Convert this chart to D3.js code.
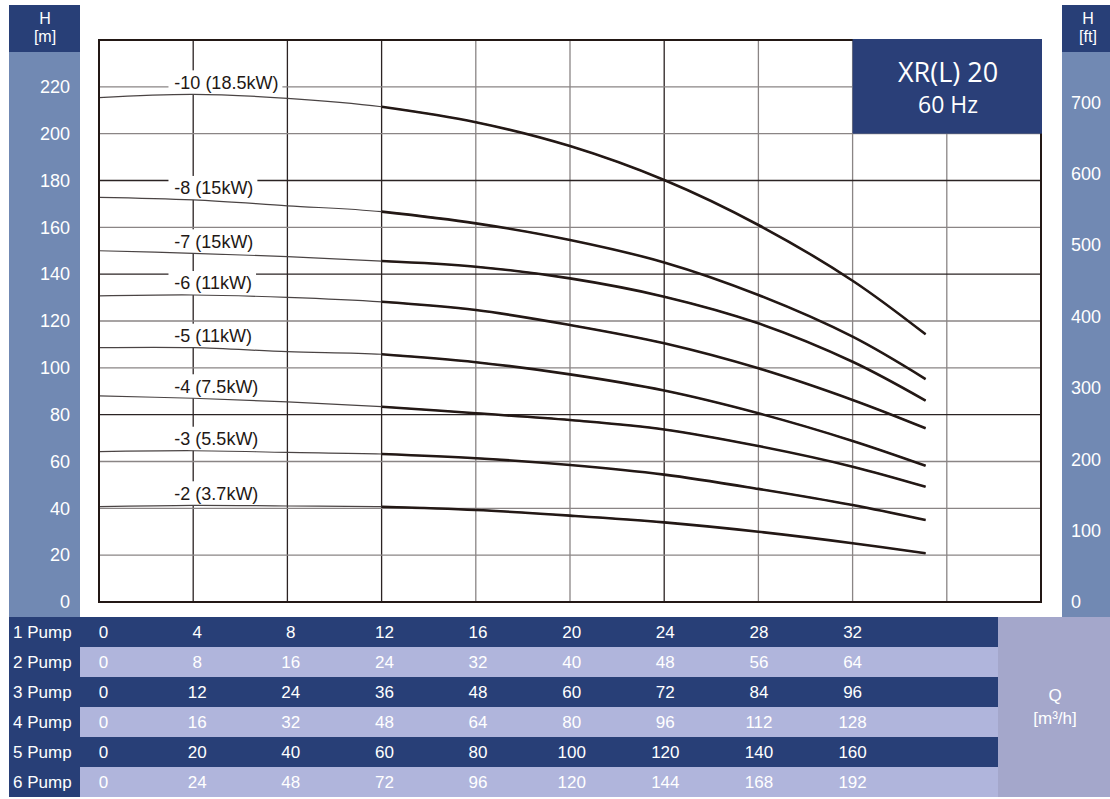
<!DOCTYPE html>
<html>
<head>
<meta charset="utf-8">
<script src="https://cdn.jsdelivr.net/npm/d3@7"></script>
<style>
  body { margin: 0; background: #fff; }
  text { font-family: "Liberation Sans", Arial, sans-serif; }
</style>
</head>
<body>
<svg id="chart"></svg>
<script>
  // flow for 1 pump, m3/h (last point = end of curve)
  const flow = [0, 4, 8, 12, 16, 20, 24, 28, 32, 35.1];

  const curveLabels = ["-10 (18.5kW)", "-8 (15kW)", "-7 (15kW)", "-6 (11kW)",
                       "-5 (11kW)", "-4 (7.5kW)", "-3 (5.5kW)", "-2 (3.7kW)"];

  // head in m, one array per stage
  const head10 = [215.4, 216.8, 215.1, 211.5, 204.9, 194.7, 180.2, 161.0, 137.2, 114.3];
  const head8  = [172.8, 171.7, 169.2, 166.7, 161.7, 154.6, 145.0, 131.1, 113.3, 95.2];
  const head7  = [150.0, 148.9, 147.5, 145.6, 143.2, 138.2, 130.4, 119.0, 102.6, 86.0];
  const head6  = [130.7, 131.1, 130.1, 128.2, 124.7, 118.3, 110.5, 99.8, 86.3, 74.2];
  const head5  = [108.6, 108.6, 106.9, 105.8, 102.4, 97.2, 90.3, 80.6, 68.8, 58.2];
  const head4  = [88.0, 87.0, 85.5, 83.4, 80.6, 77.7, 73.7, 66.6, 57.8, 49.2];
  const head3  = [64.2, 64.6, 63.9, 63.2, 61.4, 58.5, 54.4, 48.3, 41.4, 35.0];
  const head2  = [40.7, 41.3, 41.0, 40.7, 39.3, 36.9, 34.0, 30.0, 25.1, 20.8];
  const heads = [head10, head8, head7, head6, head5, head4, head3, head2];

  const mTicks = [0, 20, 40, 60, 80, 100, 120, 140, 160, 180, 200, 220];
  const ftTicks = [0, 100, 200, 300, 400, 500, 600, 700];
  const qGrid = [4, 8, 12, 16, 20, 24, 28, 32, 36];
  const hGrid = [20, 40, 60, 80, 100, 120, 140, 160, 180, 200, 220];
  const darkQ = [4, 8, 12, 24];
  const darkH = [80, 140, 180];

  const pumpNames = ["1 Pump", "2 Pump", "3 Pump", "4 Pump", "5 Pump", "6 Pump"];
  const qCols = [0, 4, 8, 12, 16, 20, 24, 28, 32];
  const pumpRows = [
    [0, 4, 8, 12, 16, 20, 24, 28, 32],
    [0, 8, 16, 24, 32, 40, 48, 56, 64],
    [0, 12, 24, 36, 48, 60, 72, 84, 96],
    [0, 16, 32, 48, 64, 80, 96, 112, 128],
    [0, 20, 40, 60, 80, 100, 120, 140, 160],
    [0, 24, 48, 72, 96, 120, 144, 168, 192]
  ];

  const W = 1110, H = 799,
        navy = "#283f77", steel = "#7189b3", lilac = "#b0b5dc", qPanel = "#a4a7cb";

  const svg = d3.select("#chart").attr("width", W).attr("height", H);

  let x = d3.scaleLinear().domain([0, 40]).range([99, 1041]);
  let y = d3.scaleLinear().domain([0, 240]).range([602, 40]);
  let yFt = d3.scaleLinear().domain([0, 240 * 3.28084]).range([602, 40]);
  let qLabelX = d3.scaleLinear().domain([0, 32]).range([x(0) + 4.5, x(32)]);

  // side panels
  svg.append("rect").attr("x", 9).attr("y", 5).attr("width", 71).attr("height", 47).attr("fill", navy);
  svg.append("rect").attr("x", 9).attr("y", 52).attr("width", 71).attr("height", 565).attr("fill", steel);
  svg.append("rect").attr("x", 1062).attr("y", 5).attr("width", 48).attr("height", 47).attr("fill", navy);
  svg.append("rect").attr("x", 1062).attr("y", 52).attr("width", 48).attr("height", 565).attr("fill", steel);

  const hdr = [["H", "[m]", 45], ["H", "[ft]", 1088]];
  hdr.forEach((h) => {
    svg.append("text").attr("x", h[2]).attr("y", 24).attr("text-anchor", "middle")
       .attr("fill", "#fff").attr("font-size", 16).text(h[0]);
    svg.append("text").attr("x", h[2]).attr("y", 42).attr("text-anchor", "middle")
       .attr("fill", "#fff").attr("font-size", 16).text(h[1]);
  });

  // left axis (m)
  let yAxis = d3.axisLeft(y).tickValues(mTicks).tickSize(0).tickPadding(0);
  svg.append("g").attr("transform", "translate(70,0)").call(yAxis)
     .call((g) => g.select(".domain").remove())
     .selectAll("text").attr("fill", "#fff").attr("font-size", 18)
     .attr("font-family", "Liberation Sans, Arial, sans-serif");

  // right axis (ft)
  let ftAxis = d3.axisRight(yFt).tickValues(ftTicks).tickSize(0).tickPadding(0);
  svg.append("g").attr("transform", "translate(1071,0)").call(ftAxis)
     .call((g) => g.select(".domain").remove())
     .selectAll("text").attr("fill", "#fff").attr("font-size", 18)
     .attr("font-family", "Liberation Sans, Arial, sans-serif");

  // grid
  const grid = svg.append("g");
  grid.selectAll(".vg").data(qGrid).enter().append("line")
      .attr("x1", (d) => x(d)).attr("x2", (d) => x(d))
      .attr("y1", y(240)).attr("y2", y(0))
      .attr("stroke", (d) => darkQ.includes(d) ? "#2b2323" : "#8a8585")
      .attr("stroke-width", 1.3);
  grid.selectAll(".hg").data(hGrid).enter().append("line")
      .attr("x1", x(0)).attr("x2", x(40))
      .attr("y1", (d) => y(d)).attr("y2", (d) => y(d))
      .attr("stroke", (d) => darkH.includes(d) ? "#2b2323" : "#8a8585")
      .attr("stroke-width", 1.3);

  let line = d3.line()
               .x((d) => x(d[0]))
               .y((d) => y(d[1]))
               .curve(d3.curveCatmullRom.alpha(0.5));

  // curve labels with white backing (break the grid)
  const labels = svg.append("g");
  heads.forEach((h, i) => {
    let ly = y(h[1]) - 12;
    let bg = labels.append("rect").attr("fill", "#fff");
    let t = labels.append("text")
                  .attr("x", x(3.2))
                  .attr("y", ly)
                  .attr("dy", "0.36em")
                  .attr("font-size", 18)
                  .attr("fill", "#231815")
                  .text(curveLabels[i]);
    let bb = t.node().getBBox();
    bg.attr("x", x(2.95)).attr("y", ly - 12)
      .attr("width", bb.x + bb.width + 4 - x(2.95)).attr("height", 24);
  });

  // performance curves: thin start, thick from 12 m3/h
  heads.forEach((h) => {
    let pts = flow.map((q, j) => [q, h[j]]);
    svg.append("path").datum(pts)
       .attr("d", line).attr("fill", "none")
       .attr("stroke", "#4a4444").attr("stroke-width", 1.2);
    svg.append("path").datum(pts.filter((p) => p[0] >= 12))
       .attr("d", line).attr("fill", "none")
       .attr("stroke", "#231815").attr("stroke-width", 2.6);
  });

  // border
  svg.append("rect").attr("x", x(0)).attr("y", y(240))
     .attr("width", x(40) - x(0)).attr("height", y(0) - y(240))
     .attr("fill", "none").attr("stroke", "#231815").attr("stroke-width", 2);

  // title box
  svg.append("rect").attr("x", x(32)).attr("y", y(240) - 1)
     .attr("width", x(40) - x(32) + 1).attr("height", y(200) - y(240) + 1)
     .attr("fill", "#2a3f78");
  svg.append("text").attr("x", 948).attr("y", 82).attr("text-anchor", "middle")
     .attr("fill", "#fff").attr("font-size", 27)
     .style("font-family", "'Open Sans', sans-serif").text("XR(L) 20");
  svg.append("text").attr("x", 948).attr("y", 113).attr("text-anchor", "middle")
     .attr("fill", "#fff").attr("font-size", 23)
     .style("font-family", "'Open Sans', sans-serif").text("60 Hz");

  // flow table
  const rowH = 30, tableTop = 617;
  const rows = svg.append("g");
  pumpRows.forEach((r, i) => {
    let ry = tableTop + i * rowH;
    rows.append("rect").attr("x", 9).attr("y", ry).attr("width", 71).attr("height", rowH).attr("fill", navy);
    rows.append("rect").attr("x", 80).attr("y", ry).attr("width", 918).attr("height", rowH)
        .attr("fill", i % 2 === 0 ? navy : lilac);
    rows.append("text").attr("x", 13).attr("y", ry + rowH / 2).attr("dy", "0.36em")
        .attr("fill", "#fff").attr("font-size", 17).text(pumpNames[i]);
    rows.selectAll(null).data(r).enter().append("text")
        .attr("x", (d, j) => qLabelX(qCols[j]))
        .attr("y", ry + rowH / 2).attr("dy", "0.36em")
        .attr("text-anchor", "middle")
        .attr("fill", "#fff").attr("font-size", 17)
        .text((d) => d);
  });
  svg.append("rect").attr("x", 998).attr("y", tableTop).attr("width", 112).attr("height", rowH * 6).attr("fill", qPanel);
  svg.append("text").attr("x", 1055).attr("y", 701).attr("text-anchor", "middle")
     .attr("fill", "#fff").attr("font-size", 17).text("Q");
  svg.append("text").attr("x", 1055).attr("y", 724).attr("text-anchor", "middle")
     .attr("fill", "#fff").attr("font-size", 17).text("[m³/h]");
</script>
</body>
</html>
